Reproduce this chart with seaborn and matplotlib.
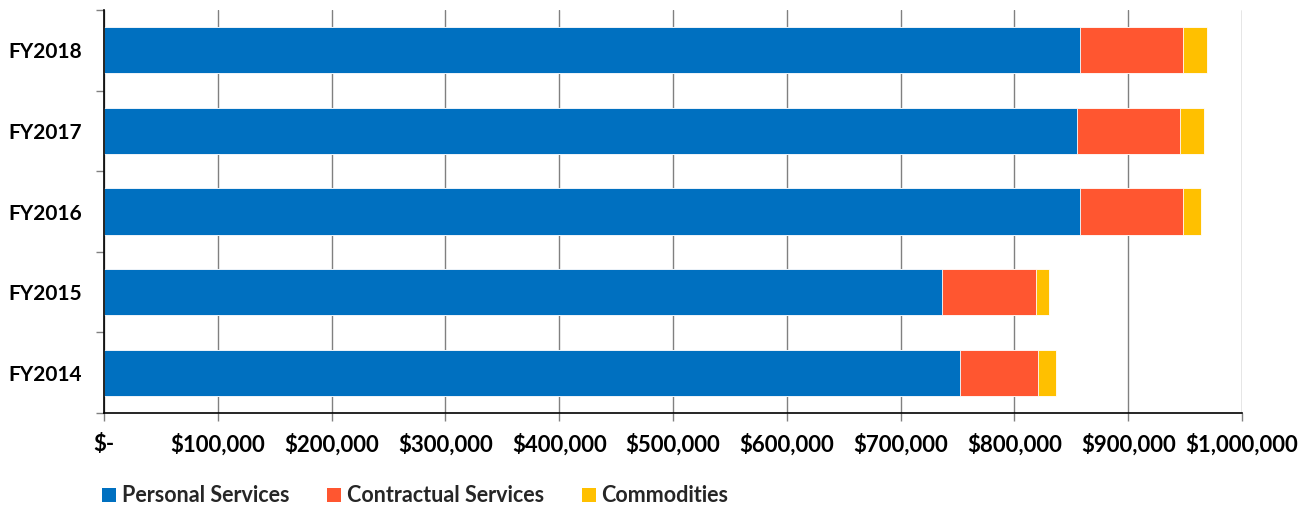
import matplotlib
matplotlib.use("Agg")
import matplotlib.pyplot as plt
import seaborn as sns
import pandas as pd
import numpy as np
from matplotlib.patches import Patch
from matplotlib.ticker import FuncFormatter, MultipleLocator

years = ["FY2018", "FY2017", "FY2016", "FY2015", "FY2014"]
personal = [857600, 854700, 857900, 736000, 751800]
contractual = [90600, 90700, 90100, 83000, 69000]
commodities = [20800, 21000, 16000, 11200, 15500]
series_names = ["Personal Services", "Contractual Services", "Commodities"]
colors = ["#0070C0", "#FF5630", "#FFC000"]
xticks = list(range(0, 1000001, 100000))

sns.set_theme(style="white")
plt.rcParams["font.family"] = ["Lato", "DejaVu Sans"]
plt.rcParams["font.weight"] = "bold"

df = pd.DataFrame({"year": years, "p": personal, "c": contractual, "m": commodities})
df["pc"] = df["p"] + df["c"]
df["total"] = df["pc"] + df["m"]

fig = plt.figure(figsize=(13.13, 5.08), dpi=100)
ax = fig.add_axes([104/1313, 1-413/508, (1242-104)/1313, 403/508])

for col, colr in zip(["total", "pc", "p"], colors[::-1]):
    sns.barplot(data=df, x=col, y="year", order=years, orient="h", color=colr,
                width=0.574, edgecolor="white", linewidth=0.6, saturation=1, ax=ax)

ax.set_xlim(0, 1000000)
ax.set_ylim(4.5, -0.5)
ax.set_xticks(xticks)
ax.xaxis.set_major_formatter(FuncFormatter(lambda v, p: "$-" if v == 0 else f"${int(v):,}"))
ax.set_xlabel("")
ax.set_ylabel("")
ax.grid(axis="x", color="#808080", linewidth=1)
ax.set_axisbelow(True)
for s in ["top", "right"]:
    ax.spines[s].set_visible(False)
for s in ["left", "bottom"]:
    ax.spines[s].set_color("black")
    ax.spines[s].set_linewidth(1.2)
ax.yaxis.set_minor_locator(MultipleLocator(1, offset=0.5))
ax.set_yticks(range(len(years)))
ax.tick_params(axis="y", which="major", length=0, pad=16, labelsize=15)
ax.tick_params(axis="y", which="minor", length=6, color="#808080", width=1, left=True)
ax.tick_params(axis="x", which="major", length=6, color="#808080", width=1, bottom=True,
               direction="out", pad=9, labelsize=16)
for lbl in ax.get_xticklabels() + ax.get_yticklabels():
    lbl.set_fontweight("bold")
    lbl.set_color("black")

handles = [Patch(facecolor=c, edgecolor="none") for c in colors]
fig.legend(handles, series_names, loc="center left", bbox_to_anchor=(83/1313, 1-496/508),
           ncol=3, frameon=False, handlelength=0.65, handleheight=0.65,
           handletextpad=0.25, columnspacing=1.77, prop={"weight": "bold", "size": 15.5})

fig.savefig("out.png", dpi=100)
